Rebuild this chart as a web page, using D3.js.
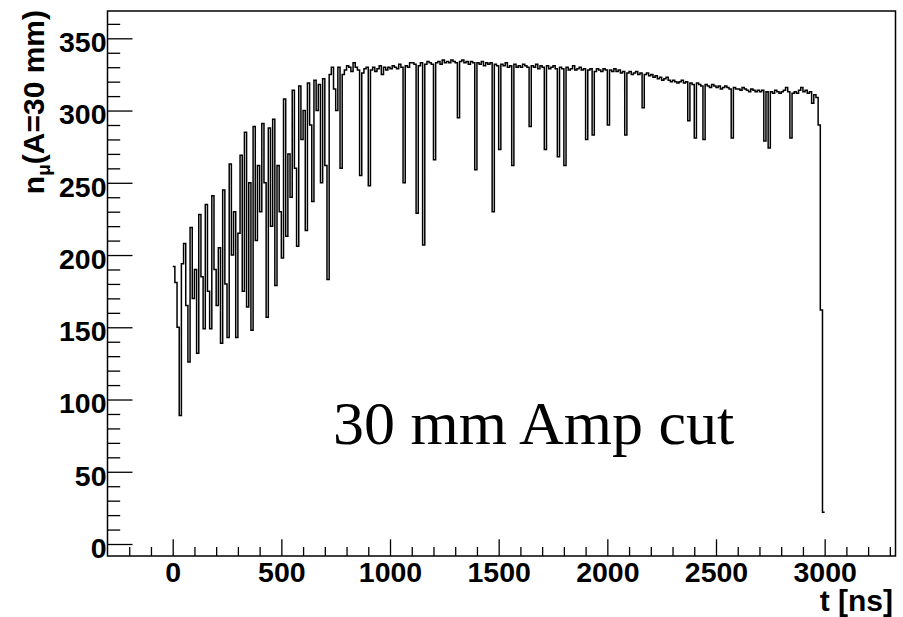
<!DOCTYPE html>
<html lang="en">
<head>
<meta charset="UTF-8">
<title>n_mu(A=30 mm) vs t</title>
<script src="https://d3js.org/d3.v7.min.js"></script>
<style>
  body { margin: 0; background: #fff; }
  svg { font-family: "Liberation Sans", Arial, sans-serif; }
  .axis text { font-weight: bold; font-size: 28.5px; fill: #000; }
  .axis line { stroke: #000; stroke-width: 1.3; }
</style>
</head>
<body>
<div id="chart"></div>
<script>
// histogram: 10 ns bins starting at t = 0
var binStart = 0;
var binWidth = 10;
var counts = [
  192, 181, 150,  89, 194, 208, 165, 126, 219, 170,   // 0
  190, 132, 228, 185, 149, 235, 175, 149, 241, 190,   // 100
  165, 205, 139, 245, 180, 143, 263, 200, 230, 143,   // 200
  215, 269, 175, 285, 164, 250, 148, 289, 210, 262,   // 300
  230, 291, 250, 157, 288, 220, 294, 179, 262, 230,   // 400
  198, 308, 213, 270, 240, 314, 260, 206, 317, 280,   // 500
  300, 217, 319, 290, 237, 321, 300, 318, 250, 322,   // 600
  262, 183, 325, 330, 315, 300, 330, 260, 325, 328,   // 700
  331, 330, 327, 333, 330, 328, 255, 326, 329, 330,   // 800
  248, 328, 330, 327, 329, 331, 325, 330, 328, 330,   // 900
  329, 331, 330, 329, 332, 330, 250, 331, 330, 333,   // 1000
  333, 332, 229, 331, 333, 207, 332, 334, 333, 332,   // 1100
  266, 333, 334, 332, 335, 333, 334, 333, 335, 334,   // 1200
  333, 295, 334, 335, 333, 334, 332, 334, 333, 259,   // 1300
  333, 332, 334, 331, 333, 332, 333, 230, 332, 331,   // 1400
  273, 332, 331, 333, 330, 331, 262, 332, 330, 331,   // 1500
  330, 332, 331, 330, 289, 331, 330, 332, 329, 331,   // 1600
  330, 273, 331, 329, 330, 331, 329, 268, 330, 329,   // 1700
  262, 330, 328, 329, 331, 328, 329, 330, 328, 329,   // 1800
  280, 328, 329, 283, 327, 329, 328, 327, 329, 328,   // 1900
  290, 328, 327, 329, 327, 328, 326, 327, 283, 326,   // 2000
  327, 325, 326, 327, 325, 326, 302, 325, 326, 324,   // 2100
  325, 323, 324, 322, 323, 321, 322, 323, 321, 320,   // 2200
  321, 320, 319, 320, 321, 319, 320, 293, 319, 318,   // 2300
  281, 319, 318, 317, 280, 318, 317, 316, 318, 317,   // 2400
  316, 317, 315, 316, 317, 316, 315, 281, 316, 315,   // 2500
  315, 314, 316, 315, 314, 313, 315, 314, 313, 314,   // 2600
  313, 314, 279, 313, 274, 313, 312, 314, 313, 312,   // 2700
  313, 314, 316, 313, 281, 312, 313, 312, 314, 316,   // 2800
  313, 314, 312, 313, 305, 311, 309, 290, 162,  22    // 2900
];

var xTicks = [0, 500, 1000, 1500, 2000, 2500, 3000];
var yTicks = [0, 50, 100, 150, 200, 250, 300, 350];
var xTitle = "t [ns]";
var note = "30 mm Amp cut";

var W = 903, H = 617;
var frame = {left: 107.5, right: 895.5, top: 11, bottom: 556};

var svg = d3.select('#chart').append('svg')
    .attr('width', W).attr('height', H);

var x = d3.scaleLinear().domain([-300, 3326]).range([frame.left, frame.right]);
var y = d3.scaleLinear().domain([-8.3, 368.9]).range([frame.bottom, frame.top]);

// minor ticks every 100 ns / 10 counts
var xMinor = d3.range(-200, 3326, 100).filter(function(v) { return v % 500 !== 0; });
var yMinor = d3.range(0, 369, 10).filter(function(v) { return v % 50 !== 0; });

svg.append('g').attr('class', 'axis')
    .attr('transform', 'translate(0,' + frame.bottom + ')')
    .call(d3.axisBottom(x).tickValues(xMinor).tickSize(-9).tickFormat(''))
    .call(function(g) { g.select('.domain').remove(); });

svg.append('g').attr('class', 'axis')
    .attr('transform', 'translate(0,' + frame.bottom + ')')
    .call(d3.axisBottom(x).tickValues(xTicks).tickSize(-16.7).tickPadding(5.5).tickFormat(d3.format('d')))
    .call(function(g) { g.select('.domain').remove(); });

svg.append('g').attr('class', 'axis')
    .attr('transform', 'translate(' + frame.left + ',0)')
    .call(d3.axisLeft(y).tickValues(yMinor).tickSize(-12.7).tickFormat(''))
    .call(function(g) { g.select('.domain').remove(); });

svg.append('g').attr('class', 'axis')
    .attr('transform', 'translate(' + frame.left + ',0)')
    .call(d3.axisLeft(y).tickValues(yTicks).tickSize(-25).tickPadding(1).tickFormat(d3.format('d')))
    .call(function(g) {
        g.select('.domain').remove();
        g.selectAll('text').attr('dy', '0.47em');
    });

// histogram drawn as steps
var pts = counts.map(function(v, i) { return [binStart + i * binWidth, v]; });
pts.push([binStart + counts.length * binWidth, counts[counts.length - 1]]);

var line = d3.line()
    .x(function(d) { return x(d[0]); })
    .y(function(d) { return y(d[1]); })
    .curve(d3.curveStepAfter);

svg.append('path')
    .datum(pts)
    .attr('fill', 'none')
    .attr('stroke', '#000')
    .attr('stroke-width', 1.5)
    .attr('d', line);

// frame
svg.append('rect')
    .attr('x', frame.left).attr('y', frame.top)
    .attr('width', frame.right - frame.left)
    .attr('height', frame.bottom - frame.top)
    .attr('fill', 'none')
    .attr('stroke', '#000')
    .attr('stroke-width', 1.5);

// axis titles
svg.append('text')
    .attr('x', 893).attr('y', 611)
    .attr('text-anchor', 'end')
    .style('font-weight', 'bold').style('font-size', '30px')
    .text(xTitle);

var yt = svg.append('text')
    .attr('transform', 'translate(43.5,10) rotate(-90)')
    .attr('text-anchor', 'end')
    .style('font-weight', 'bold').style('font-size', '30px');
yt.append('tspan').text('n');
yt.append('tspan').attr('dy', 6).style('font-size', '19px').text('\u03bc');
yt.append('tspan').attr('dy', -6).text('(A=30 mm)');

// annotation
svg.append('text')
    .attr('x', 333).attr('y', 444)
    .style('font-family', '"Liberation Serif", "Times New Roman", serif')
    .style('font-size', '62px')
    .text(note);
</script>
</body>
</html>
